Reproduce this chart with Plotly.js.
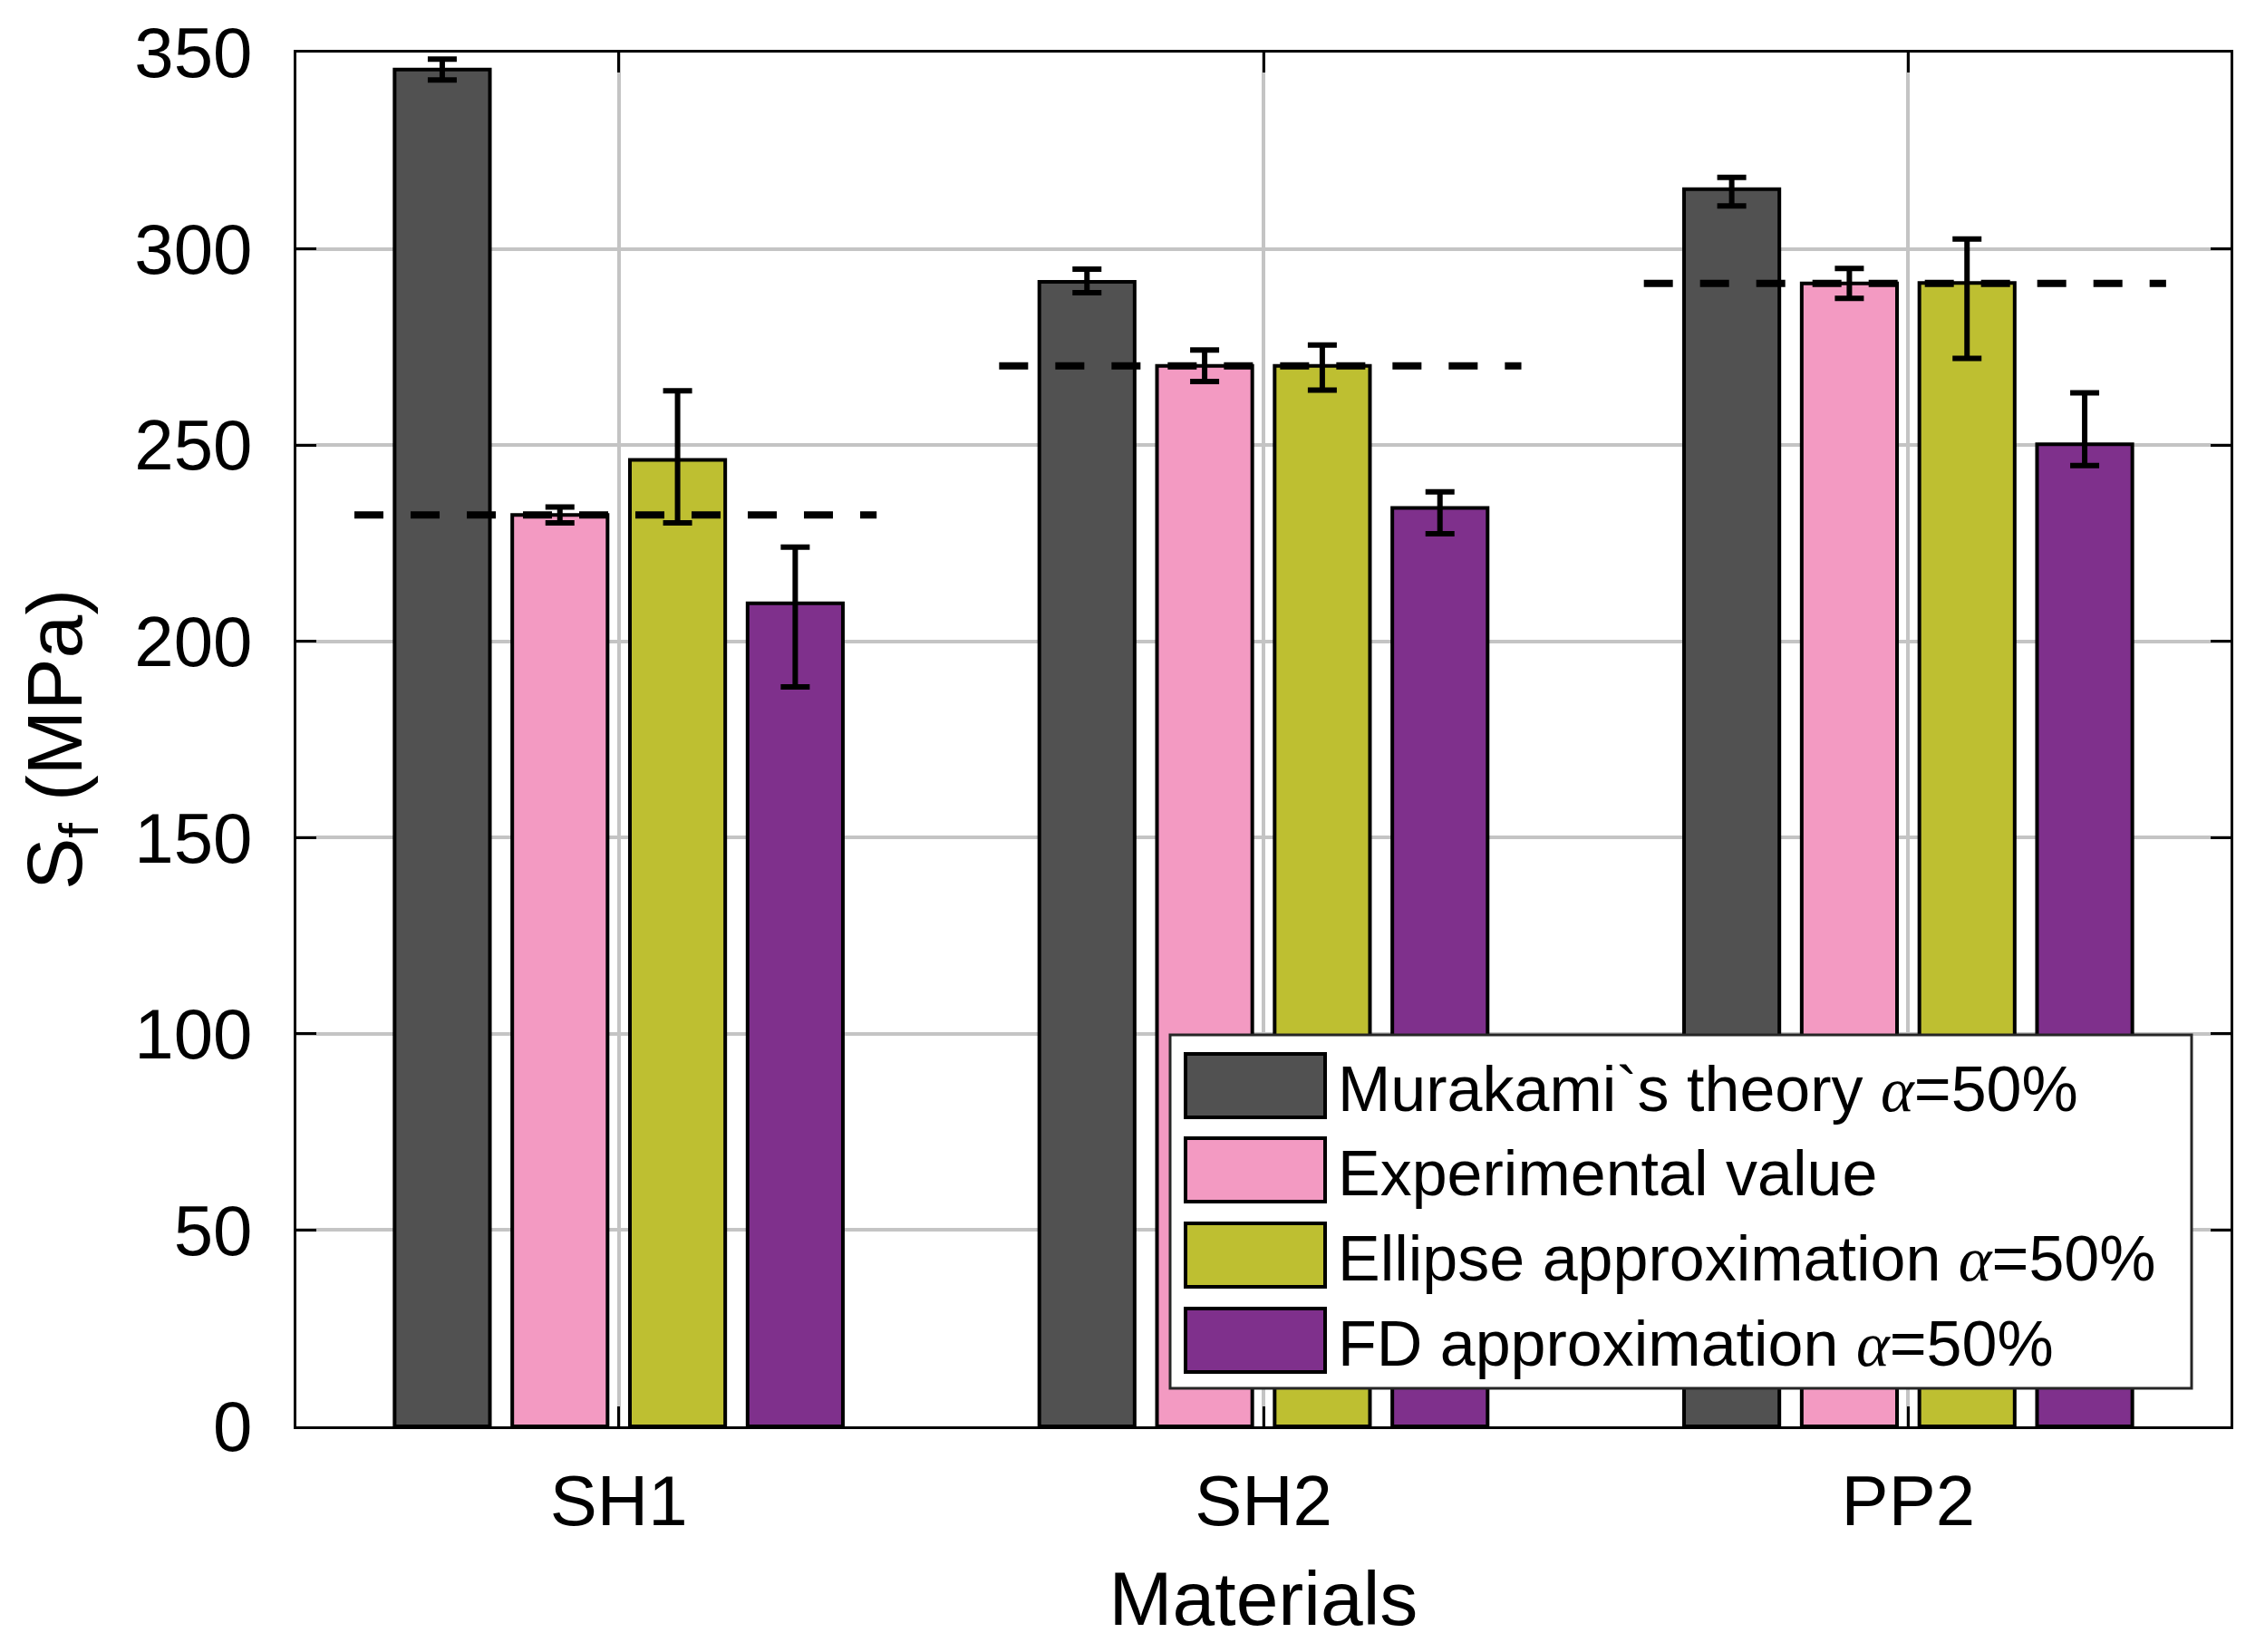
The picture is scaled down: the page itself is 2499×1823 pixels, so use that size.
<!DOCTYPE html>
<html>
<head>
<meta charset="utf-8">
<script src="https://cdn.plot.ly/plotly-3.0.1.min.js"></script>
<style>html,body{margin:0;padding:0;background:#fff;}#chart{width:2499px;height:1823px;}</style>
</head>
<body>
<div id="chart"></div>
<script>
// ---- data ----
const categories = ['SH1', 'SH2', 'PP2'];
const ALPHA = '<span style="font-family:Liberation Serif,Times New Roman,serif"><i>α</i></span>';
const seriesNames = ['Murakami`s theory ' + ALPHA + '=50%', 'Experimental value', 'Ellipse approximation ' + ALPHA + '=50%', 'FD approximation ' + ALPHA + '=50%'];
const seriesColors = ['#515151', '#F39AC2', '#BEBF31', '#7F308C'];

const murakami = [345.7, 291.6, 315.2];
const murakamiPlus = [2.6, 3.2, 3.0];
const murakamiMinus = [2.7, 2.8, 4.3];

const experimental = [232.2, 270.2, 291.2];
const experimentalPlus = [2.0, 4.0, 3.8];
const experimentalMinus = [2.0, 4.0, 3.8];

const ellipse = [246.2, 270.2, 291.3];
const ellipsePlus = [17.6, 5.3, 11.2];
const ellipseMinus = [16.0, 6.2, 19.2];

const fd = [209.7, 234.0, 250.2];
const fdPlus = [14.3, 4.1, 13.1];
const fdMinus = [21.3, 6.6, 5.4];

// ---- layout constants ----
const W = 2499, H = 1823;
const M = {l: 327, r: 38, t: 58, b: 249};
const plotW = W - M.l - M.r, plotH = H - M.t - M.b;
const px2x = p => (p - M.l) / plotW;
const px2y = p => (H - M.b - p) / plotH;
const FONT = 'Liberation Sans, Arial, Helvetica, sans-serif';

const xIdx = categories.map((c, i) => i + 1);
const values = [murakami, experimental, ellipse, fd];
const plus = [murakamiPlus, experimentalPlus, ellipsePlus, fdPlus];
const minus = [murakamiMinus, experimentalMinus, ellipseMinus, fdMinus];

const traces = values.map((v, k) => ({
  type: 'bar',
  x: xIdx,
  y: v,
  name: seriesNames[k],
  showlegend: false,
  marker: {color: seriesColors[k], line: {color: '#000000', width: 4}},
  error_y: {type: 'data', symmetric: false, array: plus[k], arrayminus: minus[k],
            color: '#000000', thickness: 6, width: 16},
  hoverinfo: 'y'
}));

// dashed reference lines at the experimental value of each material
const dashLeft = 0.41, dashRight = 0.40;
categories.forEach((c, i) => {
  traces.push({
    type: 'scatter', mode: 'lines',
    x: [xIdx[i] - dashLeft, xIdx[i] + dashRight],
    y: [experimental[i], experimental[i]],
    line: {color: '#000000', width: 8, dash: '32px,30px'},
    showlegend: false, hoverinfo: 'skip'
  });
});

// ---- custom legend (big swatches like the reference) ----
const legBox = {x0: 1291, x1: 2418, y0: 1142, y1: 1532};
const rowY = [1198, 1291, 1385, 1479];
const swX0 = 1308, swX1 = 1462, swH = 70, textX = 1474;
const shapes = [{
  type: 'rect', xref: 'paper', yref: 'paper',
  x0: px2x(legBox.x0), x1: px2x(legBox.x1), y0: px2y(legBox.y1), y1: px2y(legBox.y0),
  fillcolor: '#ffffff', line: {color: '#262626', width: 3}, layer: 'above'
}];
const annotations = [];
seriesNames.forEach((n, k) => {
  shapes.push({
    type: 'rect', xref: 'paper', yref: 'paper',
    x0: px2x(swX0), x1: px2x(swX1), y0: px2y(rowY[k] + swH / 2), y1: px2y(rowY[k] - swH / 2),
    fillcolor: seriesColors[k], line: {color: '#000000', width: 4}, layer: 'above'
  });
  annotations.push({
    xref: 'paper', yref: 'paper', x: px2x(textX), y: px2y(rowY[k] + 4),
    xanchor: 'left', yanchor: 'middle', showarrow: false, text: n,
    font: {family: FONT, size: 70, color: '#000000'}
  });
});

const axisCommon = {
  showline: true, linecolor: '#000000', linewidth: 3, mirror: 'ticks',
  ticks: 'inside', ticklen: 22, tickwidth: 3, tickcolor: '#000000',
  showgrid: true, gridcolor: '#c4c4c4', gridwidth: 4, zeroline: false,
  tickfont: {family: FONT, size: 78, color: '#000000'}
};

const layout = {
  width: W, height: H,
  margin: M,
  paper_bgcolor: '#ffffff', plot_bgcolor: '#ffffff',
  font: {family: FONT, color: '#000000'},
  barmode: 'group', bargap: 0.27, bargroupgap: 0.19,
  showlegend: false,
  xaxis: Object.assign({}, axisCommon, {
    range: [0.5, 3.5], tickvals: xIdx, ticktext: categories,
    ticklabelstandoff: 12,
    title: {text: 'Materials', font: {family: FONT, size: 84, color: '#000000'}, standoff: 36}
  }),
  yaxis: Object.assign({}, axisCommon, {
    range: [0, 350], dtick: 50, tick0: 0,
    ticklabelstandoff: 30,
    title: {text: 'S<sub>f</sub> (MPa)', font: {family: FONT, size: 86, color: '#000000'}, standoff: 30}
  }),
  shapes: shapes,
  annotations: annotations
};

Plotly.newPlot('chart', traces, layout, {displayModeBar: false, staticPlot: true});
</script>
</body>
</html>
